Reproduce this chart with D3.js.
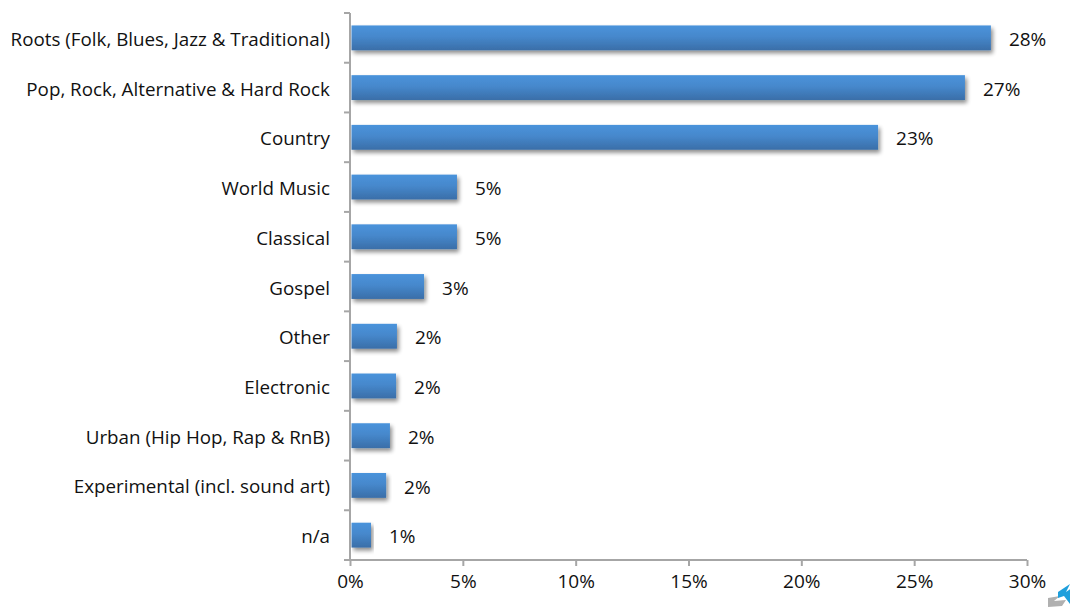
<!DOCTYPE html>
<html>
<head>
<meta charset="utf-8">
<script src="https://cdn.jsdelivr.net/npm/d3@7"></script>
<style>
  html, body { margin: 0; padding: 0; background: #fff; }
  svg { display: block; }
  text { font-family: "Open Sans", "Noto Sans", sans-serif; fill: #111; }
</style>
</head>
<body>
<svg id="chart" width="1070" height="608"></svg>
<script>
// Genre shares (fraction of respondents)
const categories = [
  "Roots (Folk, Blues, Jazz & Traditional)",
  "Pop, Rock, Alternative & Hard Rock",
  "Country",
  "World Music",
  "Classical",
  "Gospel",
  "Other",
  "Electronic",
  "Urban (Hip Hop, Rap & RnB)",
  "Experimental (incl. sound art)",
  "n/a"
];
const shares = [0.284, 0.2725, 0.234, 0.0474, 0.0474, 0.0328, 0.0208, 0.0204, 0.0177, 0.016, 0.0093];
const xTicks = [0, 0.05, 0.10, 0.15, 0.20, 0.25, 0.30];

const data = categories.map((c, i) => ({ name: c, value: shares[i] }));

const svg = d3.select("#chart");
const plotLeft = 350, plotRight = 1027, plotTop = 13, plotBottom = 560;
const labelSize = 18.8, numberSize = 19;

const x = d3.scaleLinear().domain([0, 0.30]).range([plotLeft, plotRight]);
const y = d3.scaleBand().domain(categories).range([plotTop, plotBottom]).paddingInner(0.5).paddingOuter(0.25);

const defs = svg.append("defs");
const grad = defs.append("linearGradient").attr("id", "barFill")
  .attr("x1", 0).attr("y1", 0).attr("x2", 0).attr("y2", 1);
grad.append("stop").attr("offset", "0%").attr("stop-color", "#4a93db");
grad.append("stop").attr("offset", "45%").attr("stop-color", "#4688cc");
grad.append("stop").attr("offset", "100%").attr("stop-color", "#3a6ea8");

const shadow = defs.append("filter").attr("id", "barShadow")
  .attr("x", "-5%").attr("y", "-20%").attr("width", "120%").attr("height", "180%");
shadow.append("feGaussianBlur").attr("in", "SourceAlpha").attr("stdDeviation", 2.2).attr("result", "blur");
shadow.append("feOffset").attr("in", "blur").attr("dx", 2).attr("dy", 3).attr("result", "off");
shadow.append("feComponentTransfer").attr("in", "off").attr("result", "soft")
  .append("feFuncA").attr("type", "linear").attr("slope", 0.45);
const merge = shadow.append("feMerge");
merge.append("feMergeNode").attr("in", "soft");
merge.append("feMergeNode").attr("in", "SourceGraphic");

// Bars
svg.append("g").selectAll("rect").data(data).join("rect")
  .attr("x", x(0) + 1.5)
  .attr("y", d => y(d.name))
  .attr("width", d => x(d.value) - x(0) - 1.5)
  .attr("height", y.bandwidth())
  .attr("fill", "url(#barFill)")
  .attr("filter", "url(#barShadow)");

// Value labels
const fmt = d3.format(".0%");
svg.append("g").selectAll("text").data(data).join("text")
  .attr("x", d => x(d.value) + 18)
  .attr("y", d => y(d.name) + y.bandwidth() / 2 + 1.5)
  .attr("dy", "0.35em")
  .attr("font-size", numberSize)
  .text(d => fmt(d.value));

// Category axis: line with ticks at band boundaries
const axisColor = "#a6a6a6";
const gy = svg.append("g");
gy.append("line").attr("x1", plotLeft).attr("x2", plotLeft).attr("y1", plotTop).attr("y2", plotBottom)
  .attr("stroke", axisColor).attr("stroke-width", 2);
const bounds = d3.range(categories.length + 1).map(i => plotTop + i * (plotBottom - plotTop) / categories.length);
gy.selectAll("line.tick").data(bounds).join("line").attr("class", "tick")
  .attr("x1", plotLeft - 6).attr("x2", plotLeft).attr("y1", d => d).attr("y2", d => d)
  .attr("stroke", axisColor).attr("stroke-width", 2);
gy.selectAll("text").data(data).join("text")
  .attr("x", plotLeft - 20)
  .attr("y", d => y(d.name) + y.bandwidth() / 2 + 1.5)
  .attr("dy", "0.35em")
  .attr("text-anchor", "end")
  .attr("font-size", labelSize)
  .text(d => d.name);

// Value axis
const xAxis = d3.axisBottom(x).tickValues(xTicks).tickFormat(d3.format(".0%")).tickSize(6).tickPadding(9);
const gx = svg.append("g").attr("transform", `translate(0,${plotBottom})`).call(xAxis);
gx.select(".domain").attr("stroke", axisColor).attr("stroke-width", 2)
  .attr("d", `M${plotLeft},0H${plotRight}`);
gx.selectAll(".tick line").attr("stroke", axisColor).attr("stroke-width", 2);
gx.selectAll(".tick text").attr("font-size", numberSize).attr("fill", "#111")
  .attr("font-family", "\"Open Sans\", \"Noto Sans\", sans-serif");

// Corner logo mark
const logo = svg.append("g").attr("transform", "translate(1046,582)");
logo.append("path").attr("d", "M2,16 L14,14 L8,19 L20,18 L16,24 L2,25 Z").attr("fill", "#b0b0b0");
logo.append("path").attr("d", "M12,10 L24,2 L20,10 L26,6 L24,22 L18,14 L12,16 Z").attr("fill", "#1e9fdc");
</script>
</body>
</html>
